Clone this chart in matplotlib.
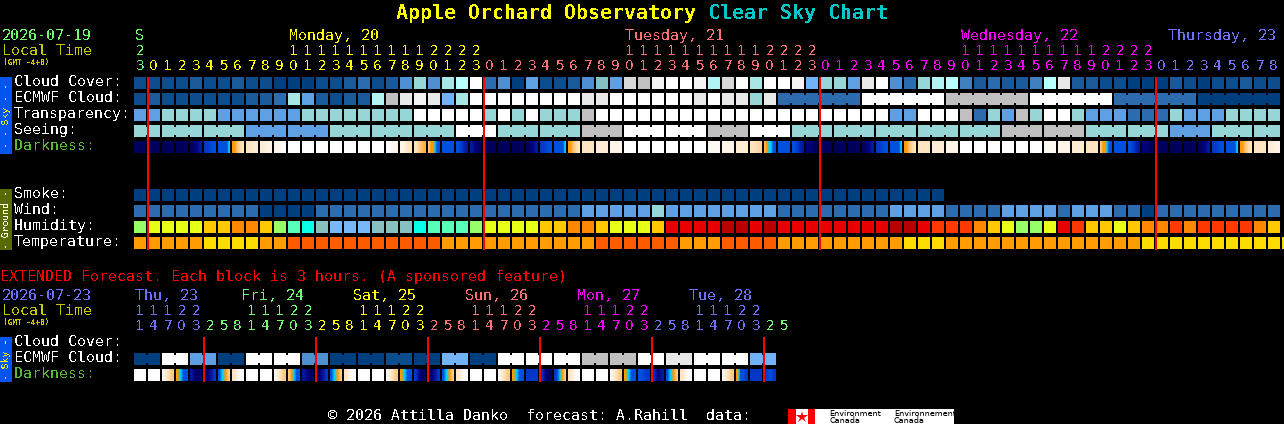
import numpy as np
import matplotlib
matplotlib.use("Agg")
import matplotlib.pyplot as plt
from matplotlib.patches import Rectangle
from matplotlib.colors import LinearSegmentedColormap

plt.rcParams["text.hinting"] = "no_autohint"

# ---------- data ----------
title_name = "Apple Orchard Observatory"
title_chart = "Clear Sky Chart"
main_date = "2026-07-19"
ext_date = "2026-07-23"

main_days = ["Monday, 20", "Tuesday, 21", "Wednesday, 22", "Thursday, 23"]
ext_days = ["Thu, 23", "Fri, 24", "Sat, 25", "Sun, 26", "Mon, 27", "Tue, 28"]

main_units = [3] + [0,1,2,3,4,5,6,7,8,9,0,1,2,3,4,5,6,7,8,9,0,1,2,3] * 3 + [0,1,2,3,4,5,6,7,8]
ext_units = [1,4,7,0,3] + [2,5,8,1,4,7,0,3] * 5 + [2,5]

cloud = [1,1,1,1,2,1,1,2,1,1,0,0,0,1,1,2,3,1,2,5,9,
         5,10,12,17,3,5,0,6,1,1,2,5,8,6,14,13,16,17,17,16,11,14,17,10,17,17,16,7,9,9,6,
         15,17,5,3,9,11,12,4,2,3,2,2,4,12,15,2,2,1,1,0,0,0,2,1,0,1,1,2,1,1]
ecmwf_hourly = [1,2,1,1,1,1,1,1,2,2,3,10,6,2,1,2,2,11,13,15,16,
                15,7,10,17,17,17,17,17,17,17,17,15,15,17,17,17,17,17,17,15,17,15,15,9,15]
ecmwf_blocks = [3,17,13,17,3,0]      # six-hour blocks at the end
transparency = [6,6,9,9,9,9,6,6,6,6,6,6,9,9,9,9,9,9,9,9,17,
                17,17,17,17,9,17,9,17,9,9,9,13,17,17,17,17,17,17,17,17,17,17,17,17,17,17,17,17,17,17,17,
                17,17,6,6,17,17,17,13,3,9,6,13,9,17,17,9,6,6,6,3,3,3,9,6,6,6,9,9,9,9]
seeing_runs = [2] + [3] * 26 + [2]
seeing = [9,9,9,6,6,9,9,9,17,9,9,13,17,17,13,17,9,9,9,9,9,13,13,9,9,6,9,9]

darkness = [[0],[0],[0],[0],[0,1,2],[3,4],[4,4,4,4,4,5],[6,7,8],[8,8.5],[8.5,9],[9,10],
            [10],[10],[10],[10],[10],[10],[10],[10,9],[9,8],[8,7,6.5],
            [7,6,6,5,4,4],[4],[4,3,2],[2,1,0],[0],[0],[0],[0,1,2],[3,4],[4,4,4,4,4,5],[6,7,8],
            [8],[8.5],[9],[10],[10],[10],[10],[10],[10],[9.5],[9],[8.5],[8,7.5],[6.5,6,5,5,4,4],
            [4],[4,3,2],[1,0],[0],[0],[0],[0,1,2],[3,4],[4,4,4,4,4,5],[6,7,8],[8],[8.5],[9],
            [10],[10],[10],[10],[10],[10],[9.5],[9],[8.5],[8],[7,6,6,5,4,4],[4],[4,3,2],[1,0],
            [0],[0],[0],[0,1,2],[3,4],[4,4,4,4,4,5],[6,7,8],[8],[8.5,9]]

smoke = [0] * 58
wind = [3,3,3,3,3,3,3,3,3,0,0,0,0,3,3,3,3,3,3,3,3,
        3,3,3,3,3,3,3,3,3,3,3,6,6,6,6,6,9,6,6,6,6,6,6,6,6,3,3,3,3,3,3,
        3,3,6,6,6,6,3,3,3,3,6,6,6,6,3,6,6,6,3,3,0,3,3,3,3,3,3,3,3,3]
humidity = ["gy","y","y","y","y","a","a","o","o","a","gy","m","c","t","b","b","b","t","t","t","c",
            "m","m","m","gy","y","y","y","y","a","a","o","o","a","y","y","y","a",
            "r","r","r","r","d","d","r","d","r","r","r","r","r","r",
            "r","r","d","d","r","x","x","x","o","a","y","gy","gy","y","r","x","a","a","y","a","o",
            "o","x","o","x","x","x","x","o","a"]
temperature = ["o"]*5 + ["y"]*4 + ["o"]*2 + ["x"]*11 + ["o"]*11 + ["x"]*6 + ["o"]*3 + ["x"]*4 \
              + ["o"]*9 + ["y"]*3 + ["o"]*14 + ["y"]*12 + ["o"]

ext_ecmwf = [0,17,6,0,17,17,5,0,0,1,0,7,0,17,17,17,13,13,17,15,17,17,7]
ext_darkness = [[10],[10],[9,8,7],[6,5,4,4],[2,1,0,1],[0,1,2,3],[4,5,6,7],[8,9,10],[10],[10],[9,8,7],
                [7,6,5,4,4],[2,1,0],[0,1,2,3],[4,5,6,7],[8,9,10],[10],[10],[9,8,7],[6,5,4,4],[3,1,0],
                [0,1,2,3],[4,5,6,7],[8,9,10],[10],[10],[9,8,7],[6,5,4,4],[3,3],[3,1,0],[3,4,5,6,7],
                [8,9,10],[10],[10],[9,8,7],[6,5,4,4],[4,3],[3,1,2],[4,5,6,7],[8,9,10],[10],[10],
                [9,8,7],[6,4,4,3],[3,3],[3,4,3]]

# ---------- styles ----------
SKY = ["#003F7F","#0D4D8D","#1A5A9A","#2C6CAE","#4080C0","#4F90D2","#5FA0E5","#72B2F8","#82C2C2",
       "#96D6D6","#A8E6E6","#B2F4F4","#B8FFFF","#C0C0C0","#D8D8D8","#E8E8E8","#F4F4F4","#FFFFFF"]
HUM = {"d":"#B80000","r":"#E80000","x":"#FF3800","o":"#FF8800","a":"#FFC800","y":"#E8FF18",
       "gy":"#98FF68","m":"#58FFB8","c":"#08FFE8","t":"#88C0C0","b":"#78B8F8"}
TMP = {"x":"#FF5C00","o":"#FF9C00","y":"#FFDC00"}
DARK_CM = LinearSegmentedColormap.from_list("dark", list(zip(np.arange(11)/10,
    ["#00005C","#000078","#0018A0","#0038C8","#0050E0","#00D0FF","#FF9900","#FFC880","#FFE4C0","#FFF4E8","#FFFFFF"])))
GREEN, YEL, SAL, MAG, BLU = "#70FF70", "#FFFF00", "#FF7070", "#FF00FF", "#7070FF"
X0, PITCH, SIZE = 134, 14, 12
MONO = "DejaVu Sans Mono"

fig = plt.figure(figsize=(12.84, 4.24), dpi=100, facecolor="black")
ax = fig.add_axes([0, 0, 1, 1])
ax.set_xlim(0, 1284)
ax.set_ylim(424, 0)
ax.axis("off")


def rect(x, y, w, h, color, z=2):
    ax.add_patch(Rectangle((x, y), w, h, facecolor=color, edgecolor="none", antialiased=False, zorder=z))


def txt(x, y, s, color="white", size=10.75, family=MONO, weight="normal", aa=False, **kw):
    ax.text(x, y, s, color=color, fontsize=size, family=family, weight=weight,
            va=kw.pop("va", "baseline"), antialiased=aa, zorder=6, **kw)


def row(top, colors, runs=None):
    for k, c in enumerate(colors):
        rect(X0 + PITCH * k, top, SIZE, SIZE, c)
    if runs:
        k = 0
        for r in runs:
            for j in range(k, k + r - 1):
                rect(X0 + PITCH * j + SIZE, top + 2, PITCH - SIZE, SIZE - 4, colors[j])
            k += r


def dark_row(top, samples):
    for k, s in enumerate(samples):
        s = list(s) if len(s) > 1 else [s[0], s[0]]
        x = X0 + PITCH * k
        ax.imshow(np.array([s], dtype=float), cmap=DARK_CM, vmin=0, vmax=10, aspect="auto",
                  interpolation="bilinear", extent=(x, x + SIZE, top + SIZE, top), zorder=2)


# ---------- header ----------
txt(396, 19, title_name, YEL, 14.35, weight="bold")
txt(708, 19, title_chart, "#00C8C8", 14.35, weight="bold")
txt(2, 40, main_date, GREEN)
txt(2, 55, "Local Time", "#C8C800")
txt(3, 65, "(GMT -4+0)", "#C8C800", 5.6, weight="bold")

txt(135, 40, "S", GREEN)
for x, s, c in zip([289, 625, 961, 1168], main_days, [YEL, SAL, MAG, BLU]):
    txt(x, 40, s, c)


def main_color(k):
    return GREEN if k == 0 else YEL if k <= 24 else SAL if k <= 48 else MAG if k <= 72 else BLU


for k, u in enumerate(main_units):
    cx = X0 + PITCH * k + 6
    txt(cx, 70, str(u), main_color(k), 9.9, "DejaVu Sans", ha="center")
    hour = (23 if k == 0 else (k - 1) % 24)
    if hour >= 10 and k < 73:
        txt(cx, 55, str(hour // 10), main_color(k), 9.9, "DejaVu Sans", ha="center")

for y, s, c in [(86, "Cloud Cover:", "white"), (102, "ECMWF Cloud:", "white"), (118, "Transparency:", "white"),
                (134, "Seeing:", "white"), (150, "Darkness:", "#55BB33"), (198, "Smoke:", "white"),
                (214, "Wind:", "white"), (230, "Humidity:", "white"), (246, "Temperature:", "white")]:
    txt(14, y, s, c)

# ---------- main rows ----------
row(77, [SKY[v] for v in cloud])
ecmwf_all = ecmwf_hourly + [v for v in ecmwf_blocks for _ in range(6)]
row(93, [SKY[v] for v in ecmwf_all], [1] * len(ecmwf_hourly) + [6] * len(ecmwf_blocks))
row(109, [SKY[v] for v in transparency])
row(125, [SKY[v] for v, r in zip(seeing, seeing_runs) for _ in range(r)], seeing_runs)
dark_row(141, darkness)
row(189, [SKY[v] for v in smoke])
row(205, [SKY[v] for v in wind])
row(221, [HUM[v] for v in humidity])
row(237, [TMP[v] for v in temperature])

# sidebars
rect(0, 77, 12, 77, "#0055EE")
txt(6, 115.5, "- - Sky - -", YEL, 7, rotation=90, ha="center", va="center", rotation_mode="anchor")
rect(0, 189, 12, 61, "#566B00")
txt(6, 219.5, "- Ground -", "white", 7, rotation=90, ha="center", va="center", rotation_mode="anchor")
rect(0, 337, 12, 45, "#0055EE")
txt(6, 359.5, "- Sky -", YEL, 7, rotation=90, ha="center", va="center", rotation_mode="anchor")

# midnight lines
for k in [1, 25, 49, 73]:
    rect(X0 + PITCH * k - 1, 77, 2, 173, "#FF0000", 4)

# ---------- extended ----------
txt(0, 281, "EXTENDED Forecast. Each block is 3 hours. (A sponsored feature)", "#FF0000")
txt(2, 300, ext_date, BLU)
txt(2, 315, "Local Time", "#C8C800")
txt(3, 325, "(GMT -4+0)", "#C8C800", 5.6, weight="bold")

ext_cols = [BLU, GREEN, YEL, SAL, MAG, BLU]
for i, s in enumerate(ext_days):
    txt(135 + 112 * i + (-6 if i else 0), 300, s, ext_cols[i])


def ext_color(k):
    if k <= 4:
        return BLU
    i = (k - 5) // 8
    return ([GREEN, YEL, SAL, MAG, BLU] + [GREEN])[i]


for k, u in enumerate(ext_units):
    cx = X0 + PITCH * k + 6
    txt(cx, 330, str(u), ext_color(k), 9.9, "DejaVu Sans", ha="center")
    if k % 8 <= 4 and k < 45:
        txt(cx, 315, "11122"[k % 8], ext_color(k), 9.9, "DejaVu Sans", ha="center")

for y, s, c in [(346, "Cloud Cover:", "white"), (362, "ECMWF Cloud:", "white"), (378, "Darkness:", "#55BB33")]:
    txt(14, y, s, c)

row(353, [SKY[v] for v in ext_ecmwf for _ in range(2)], [2] * len(ext_ecmwf))
dark_row(369, ext_darkness)
for k in range(6):
    rect(203 + 112 * k, 337, 2, 45, "#FF0000", 4)

# ---------- footer ----------
txt(328, 420, "\u00a9 2026 Attilla Danko  forecast: A.Rahill  data:")
rect(788, 409, 166, 15, "white")
rect(788, 409, 8, 15, "#FF0000", 3)
rect(808, 409, 7, 15, "#FF0000", 3)
ax.plot([802], [416.5], marker="*", color="#FF0000", markersize=9, markeredgewidth=0, zorder=4)
for x, s in [(829, "Environment"), (894, "Environnement")]:
    txt(x, 416, s, "black", 5.9, family="DejaVu Sans", aa=True)
    txt(x, 423, "Canada", "black", 5.9, family="DejaVu Sans", aa=True)

ax.set_xlim(0, 1284)
ax.set_ylim(424, 0)
fig.savefig("out.png", dpi=100, facecolor="black")
